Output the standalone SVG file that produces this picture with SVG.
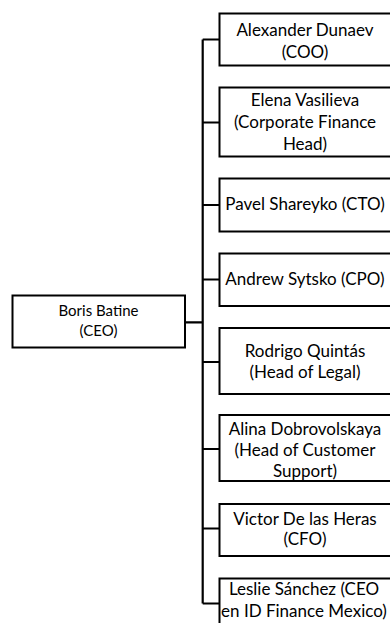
<svg xmlns="http://www.w3.org/2000/svg" width="390" height="623" viewBox="0 0 390 623">
<style>
.box{fill:#fff;stroke:#000;stroke-width:2}
.t{font-family:Lato,"Liberation Sans",sans-serif;font-size:17px;fill:#000;text-anchor:middle}
.tc{font-family:Lato,"Liberation Sans",sans-serif;font-size:15px;fill:#000;text-anchor:middle}
.c{fill:none;stroke:#000;stroke-width:2.2}
</style>
<rect width="390" height="623" fill="#fff"/>
<g id="connectors">
<path class="c" d="M185 322.3H202.7M202.7 39.5V603.5M202.7 39.5H219M202.7 122.5H219M202.7 205H219M202.7 279.5H219M202.7 362H219M202.7 449H219M202.7 528.5H219M202.7 603.5H219"/>
</g>
<g id="ceo">
<rect class="box" x="12.5" y="295.5" width="172.5" height="52"/>
<text class="tc" x="98.5" y="316">Boris Batine</text>
<text class="tc" x="98.5" y="335.5">(CEO)</text>
</g>
<g id="coo">
<rect class="box" x="219.5" y="13.5" width="172" height="52"/>
<text class="t" x="305" y="35.7">Alexander Dunaev</text>
<text class="t" x="305" y="57.5">(COO)</text>
</g>
<g id="cfh">
<rect class="box" x="219.5" y="87.5" width="172" height="69"/>
<text class="t" x="305" y="105.7">Elena Vasilieva</text>
<text class="t" x="305" y="128">(Corporate Finance</text>
<text class="t" x="305" y="150">Head)</text>
</g>
<g id="cto">
<rect class="box" x="219.5" y="178.5" width="172" height="53"/>
<text class="t" x="305" y="210">Pavel Shareyko (CTO)</text>
</g>
<g id="cpo">
<rect class="box" x="219.5" y="253.5" width="172" height="52.5"/>
<text class="t" x="305" y="285.3">Andrew Sytsko (CPO)</text>
</g>
<g id="legal">
<rect class="box" x="219.5" y="328" width="172" height="66"/>
<text class="t" x="305" y="356.7">Rodrigo Quintás</text>
<text class="t" x="305" y="378.3">(Head of Legal)</text>
</g>
<g id="support">
<rect class="box" x="219.5" y="415" width="172" height="66"/>
<text class="t" x="305" y="434.5">Alina Dobrovolskaya</text>
<text class="t" x="305" y="455.5">(Head of Customer</text>
<text class="t" x="305" y="476.5">Support)</text>
</g>
<g id="cfo">
<rect class="box" x="219.5" y="504" width="172" height="52"/>
<text class="t" x="305" y="525">Victor De las Heras</text>
<text class="t" x="305" y="545">(CFO)</text>
</g>
<g id="mexico">
<rect class="box" x="219.5" y="578.5" width="172" height="52"/>
<text class="t" x="304" y="595">Leslie Sánchez (CEO</text>
<text class="t" x="304" y="616.7">en ID Finance Mexico)</text>
</g>
</svg>
